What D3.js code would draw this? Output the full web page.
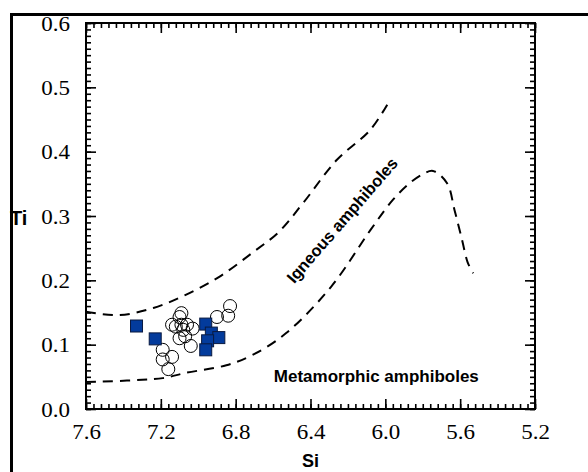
<!DOCTYPE html>
<html>
<head>
<meta charset="utf-8">
<script src="https://cdn.jsdelivr.net/npm/d3@7"></script>
<style>
  body { margin: 0; background: #fff; }
  svg { display: block; }
  .serif text { font-family: 'Liberation Serif', 'Times New Roman', 'DejaVu Serif', serif; }
  .sans { font-family: 'Liberation Sans', Arial, 'DejaVu Sans', sans-serif; font-weight: bold; }
</style>
</head>
<body>
<svg id="chart" width="588" height="472"></svg>
<script>
// tick values
const siTicks = [7.6, 7.2, 6.8, 6.4, 6.0, 5.6, 5.2];
const tiTicks = [0.0, 0.1, 0.2, 0.3, 0.4, 0.5, 0.6];

// samples (filled squares)
const squareSi = [7.33, 7.23, 6.96, 6.93, 6.89, 6.95, 6.96];
const squareTi = [0.129, 0.109, 0.132, 0.118, 0.111, 0.106, 0.092];

// samples (open circles)
const circleSi = [6.83, 6.84, 6.90, 7.09, 7.10, 7.14, 7.09, 7.06, 7.03, 7.08, 7.12, 7.07, 7.10, 7.04, 7.19, 7.14, 7.19, 7.16];
const circleTi = [0.160, 0.145, 0.143, 0.149, 0.143, 0.131, 0.131, 0.131, 0.125, 0.123, 0.128, 0.113, 0.110, 0.098, 0.092, 0.081, 0.077, 0.062];

// boundary curves
const upperSi = [7.6, 7.42, 7.24, 7.07, 6.89, 6.71, 6.57, 6.44, 6.26, 6.08, 5.98];
const upperTi = [0.151, 0.146, 0.157, 0.177, 0.205, 0.243, 0.275, 0.320, 0.387, 0.434, 0.478];
const lowerSi = [7.6, 7.19, 7.07, 6.85, 6.71, 6.53, 6.29, 6.08, 5.96, 5.87, 5.80, 5.745, 5.67, 5.63, 5.59, 5.56, 5.53];
const lowerTi = [0.042, 0.048, 0.056, 0.068, 0.084, 0.118, 0.190, 0.278, 0.325, 0.351, 0.365, 0.370, 0.351, 0.309, 0.263, 0.228, 0.211];

const MARGINS = { top: 23, left: 86, right: 53, bottom: 63 };
const WIDTH = 588, HEIGHT = 472;
const PLOT_W = WIDTH - MARGINS.left - MARGINS.right;
const PLOT_H = HEIGHT - MARGINS.top - MARGINS.bottom;

const svg = d3.select('#chart');

// outer frame (runs off the picture on right and bottom)
svg.append('rect')
  .attr('x', 11.5).attr('y', 14.5)
  .attr('width', 620).attr('height', 500)
  .attr('fill', 'none').attr('stroke', '#000').attr('stroke-width', 3);

const x = d3.scaleLinear().domain([7.6, 5.2]).range([0, PLOT_W]);
const y = d3.scaleLinear().domain([0, 0.6]).range([PLOT_H, 0]);

const chart = svg.append('g')
  .attr('transform', `translate(${MARGINS.left},${MARGINS.top})`);

const xMinor = d3.range(0, 61).map((i) => 7.6 - i * 0.04);
const yMinor = d3.range(0, 61).map((i) => i * 0.01);

const stretch = (sel, k) => {
  sel.each(function () {
    const w = this.getComputedTextLength();
    this.setAttribute('textLength', w * k);
    this.setAttribute('lengthAdjust', 'spacingAndGlyphs');
  });
};

const styleAxis = (g) => {
  g.select('.domain').remove();
  g.attr('font-family', null).attr('font-size', null);
  g.selectAll('line').attr('stroke', '#000').attr('stroke-width', 1.6);
};

// minor ticks, all four sides, pointing inward
chart.append('g').attr('transform', `translate(0,${PLOT_H})`)
  .call(d3.axisBottom(x).tickValues(xMinor).tickSize(-5).tickFormat(''))
  .call(styleAxis);
chart.append('g')
  .call(d3.axisTop(x).tickValues(xMinor).tickSize(-5).tickFormat(''))
  .call(styleAxis);
chart.append('g')
  .call(d3.axisLeft(y).tickValues(yMinor).tickSize(-5).tickFormat(''))
  .call(styleAxis);
chart.append('g').attr('transform', `translate(${PLOT_W},0)`)
  .call(d3.axisRight(y).tickValues(yMinor).tickSize(-5).tickFormat(''))
  .call(styleAxis);

// major ticks with labels
const xAxis = chart.append('g').attr('class', 'serif').attr('transform', `translate(0,${PLOT_H})`)
  .call(d3.axisBottom(x).tickValues(siTicks).tickSize(-10).tickPadding(16).tickFormat(d3.format('.1f')))
  .call(styleAxis);
chart.append('g')
  .call(d3.axisTop(x).tickValues(siTicks).tickSize(-10).tickFormat(''))
  .call(styleAxis);
const yAxis = chart.append('g').attr('class', 'serif')
  .call(d3.axisLeft(y).tickValues(tiTicks).tickSize(-10).tickPadding(16).tickFormat(d3.format('.1f')))
  .call(styleAxis);
chart.append('g').attr('transform', `translate(${PLOT_W},0)`)
  .call(d3.axisRight(y).tickValues(tiTicks).tickSize(-10).tickFormat(''))
  .call(styleAxis);

[xAxis, yAxis].forEach((a) => {
  a.selectAll('text').style('font-size', '20px').attr('fill', '#000');
});
yAxis.selectAll('text').attr('dy', '0.36em');
stretch(xAxis.selectAll('text'), 1.15);
stretch(yAxis.selectAll('text'), 1.15);

// plot frame
chart.append('rect')
  .attr('width', PLOT_W).attr('height', PLOT_H)
  .attr('fill', 'none').attr('stroke', '#000').attr('stroke-width', 2);

// dashed boundary curves
const line = d3.line()
  .x((d) => x(d[0]))
  .y((d) => y(d[1]))
  .curve(d3.curveCatmullRom);

[[upperSi, upperTi], [lowerSi, lowerTi]].forEach(([sx, ty]) => {
  chart.append('path')
    .datum(d3.zip(sx, ty))
    .attr('d', line)
    .attr('fill', 'none')
    .attr('stroke', '#000')
    .attr('stroke-width', 2)
    .attr('stroke-dasharray', '10,7');
});

// open circles
chart.selectAll('.circ')
  .data(d3.zip(circleSi, circleTi))
  .enter()
  .append('circle')
  .classed('circ', true)
  .attr('cx', (d) => x(d[0]))
  .attr('cy', (d) => y(d[1]))
  .attr('r', 6.5)
  .attr('fill', 'none')
  .attr('stroke', '#000')
  .attr('stroke-width', 1);

// filled squares
chart.selectAll('.sq')
  .data(d3.zip(squareSi, squareTi))
  .enter()
  .append('rect')
  .classed('sq', true)
  .attr('x', (d) => x(d[0]) - 6)
  .attr('y', (d) => y(d[1]) - 6)
  .attr('width', 12)
  .attr('height', 12)
  .attr('fill', '#033b9c')
  .attr('stroke', '#0a1a40')
  .attr('stroke-width', 1);

// labels
chart.append('text')
  .attr('class', 'sans')
  .attr('transform', `translate(${x(6.4) + 36},${y(0.3) + 8}) rotate(-49)`)
  .attr('text-anchor', 'middle')
  .style('font-size', '16.5px')
  .text('Igneous amphiboles');

chart.append('text')
  .attr('class', 'sans')
  .attr('x', x(6.0) - 9)
  .attr('y', y(0.05) + 5)
  .attr('text-anchor', 'middle')
  .style('font-size', '17px')
  .text('Metamorphic amphiboles');

svg.append('text')
  .attr('class', 'sans')
  .attr('x', 10)
  .attr('y', MARGINS.top + y(0.3) + 9)
  .style('font-size', '20px')
  .text('Ti');

svg.append('text')
  .attr('class', 'sans')
  .attr('x', MARGINS.left + PLOT_W / 2)
  .attr('y', HEIGHT - 5)
  .attr('text-anchor', 'middle')
  .style('font-size', '18px')
  .text('Si');
</script>
</body>
</html>
